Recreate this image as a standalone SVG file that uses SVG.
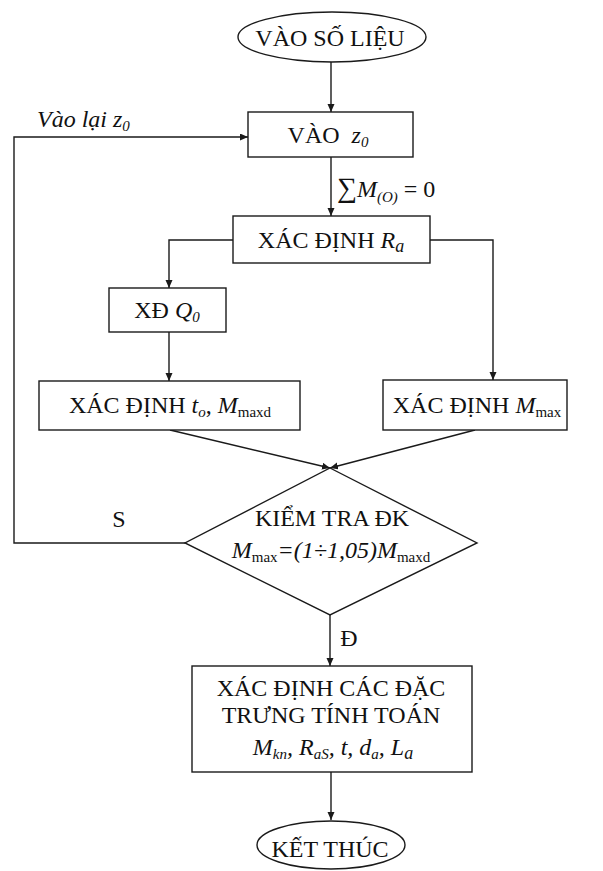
<svg xmlns="http://www.w3.org/2000/svg" width="603" height="871" viewBox="0 0 603 871">
  <style>
    .shape { fill: #ffffff; stroke: #1a1a1a; stroke-width: 1.4; }
    .wire { fill: none; stroke: #1a1a1a; stroke-width: 1.4; }
    text { font-family: "Liberation Serif", "Times New Roman", serif; font-size: 24px; fill: #111111; }
    .it { font-style: italic; }
    .sub { font-size: 15px; }
  </style>
  <defs>
    <marker id="arrow" markerUnits="userSpaceOnUse" markerWidth="9" markerHeight="8" refX="8" refY="3.5" orient="auto">
      <path d="M0,0 L8,3.5 L0,7 z" fill="#1a1a1a"/>
    </marker>
  </defs>
  <rect width="603" height="871" fill="#ffffff"/>

  <!-- connectors -->
  <g id="connectors">
    <path class="wire" d="M331,62 L331,112" marker-end="url(#arrow)"/>
    <path class="wire" d="M331,157 L331,216" marker-end="url(#arrow)"/>
    <path class="wire" d="M233,240 L169,240 L169,288" marker-end="url(#arrow)"/>
    <path class="wire" d="M430,240 L493,240 L493,380" marker-end="url(#arrow)"/>
    <path class="wire" d="M169,332 L169,381" marker-end="url(#arrow)"/>
    <path class="wire" d="M170,430 L330,468" marker-end="url(#arrow)"/>
    <path class="wire" d="M475,430 L330,468" marker-end="url(#arrow)"/>
    <path class="wire" d="M330,615 L330,666" marker-end="url(#arrow)"/>
    <path class="wire" d="M185,543 L14,543 L14,137 L248,137" marker-end="url(#arrow)"/>
    <path class="wire" d="M331,772 L331,820" marker-end="url(#arrow)"/>
    <text class="it" x="37" y="127" font-size="22">Vào lại z<tspan class="sub" dy="4">0</tspan></text>
    <text x="337" y="197"><tspan font-size="28">∑</tspan><tspan class="it">M</tspan><tspan class="sub it" dy="5">(O)</tspan><tspan dy="-5"> = 0</tspan></text>
    <text x="119" y="527" text-anchor="middle">S</text>
    <text x="349" y="646" text-anchor="middle">Đ</text>
  </g>

  <g id="start">
    <ellipse class="shape" cx="332" cy="37" rx="94" ry="25"/>
    <text x="330" y="46" text-anchor="middle" font-size="25">VÀO SỐ LIỆU</text>
  </g>

  <g id="input-z0">
    <rect class="shape" x="248" y="112" width="165" height="45"/>
    <text x="328" y="143" text-anchor="middle">VÀO&#160; <tspan class="it">z</tspan><tspan class="sub it" dy="4">0</tspan></text>
  </g>

  <g id="find-ra">
    <rect class="shape" x="233" y="216" width="197" height="47"/>
    <text x="331" y="248" text-anchor="middle">XÁC ĐỊNH <tspan class="it">R</tspan><tspan class="it" font-size="18" dy="4">a</tspan></text>
  </g>

  <g id="find-q0">
    <rect class="shape" x="109" y="288" width="117" height="44"/>
    <text x="167" y="318" text-anchor="middle">XĐ <tspan class="it">Q</tspan><tspan class="sub it" dy="4">0</tspan></text>
  </g>

  <g id="find-t0">
    <rect class="shape" x="39" y="381" width="261" height="49"/>
    <text x="170" y="413" text-anchor="middle">XÁC ĐỊNH <tspan class="it">t</tspan><tspan class="sub it" dy="4">o</tspan><tspan dy="-4">, </tspan><tspan class="it">M</tspan><tspan class="sub" dy="4">maxd</tspan></text>
  </g>

  <g id="find-mmax">
    <rect class="shape" x="383" y="380" width="184" height="50"/>
    <text x="477" y="413" text-anchor="middle">XÁC ĐỊNH <tspan class="it">M</tspan><tspan class="sub" dy="4">max</tspan></text>
  </g>

  <g id="check">
    <path class="shape" d="M330,468 L477,543 L330,615 L185,543 Z"/>
    <text x="332" y="526" text-anchor="middle">KIỂM TRA ĐK</text>
    <text x="331" y="558" text-anchor="middle"><tspan class="it">M</tspan><tspan class="sub" dy="4">max</tspan><tspan class="it" dy="-4">=(1÷1,05)M</tspan><tspan class="sub" dy="4">maxd</tspan></text>
  </g>

  <g id="results">
    <rect class="shape" x="192" y="666" width="280" height="106"/>
    <text x="331" y="696" text-anchor="middle">XÁC ĐỊNH CÁC ĐẶC</text>
    <text x="331" y="723" text-anchor="middle">TRƯNG TÍNH TOÁN</text>
    <text class="it" x="333" y="755" text-anchor="middle">M<tspan class="sub" dy="4">kn</tspan><tspan dy="-4">, R</tspan><tspan class="sub" dy="4">aS</tspan><tspan dy="-4">, t, d</tspan><tspan class="sub" dy="4">a</tspan><tspan dy="-4">, L</tspan><tspan font-size="18" dy="4">a</tspan></text>
  </g>

  <g id="end">
    <ellipse class="shape" cx="331" cy="845" rx="74" ry="24"/>
    <text x="330" y="857" text-anchor="middle" font-size="24">KẾT THÚC</text>
  </g>
</svg>
